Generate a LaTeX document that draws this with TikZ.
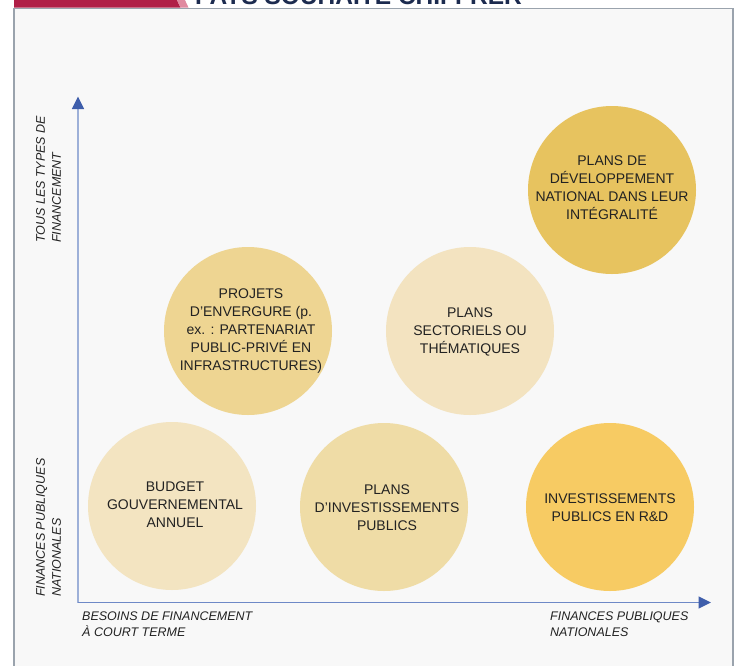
\documentclass[tikz,border=0pt]{standalone}
\usepackage{fontspec}
\setmainfont{Liberation Sans}
\usetikzlibrary{arrows.meta}
\definecolor{panelbg}{HTML}{F8F8F8}
\definecolor{panelborder}{HTML}{9AA3AD}
\definecolor{crimson}{HTML}{B01F47}
\definecolor{pinkstripe}{HTML}{E08AA0}
\definecolor{titlecol}{HTML}{1C2B4F}
\definecolor{textdark}{HTML}{222222}
\definecolor{axisv}{HTML}{9DB0D8}
\definecolor{axish}{HTML}{6E89C7}
\definecolor{axistip}{HTML}{3F5EAB}
\definecolor{cA}{HTML}{E7C35F}
\definecolor{cB}{HTML}{EED592}
\definecolor{cC}{HTML}{F3E3C0}
\definecolor{cD}{HTML}{F3E4C1}
\definecolor{cE}{HTML}{EFDCA6}
\definecolor{cF}{HTML}{F7CB63}
\begin{document}
\begin{tikzpicture}[x=1pt,y=-1pt,
  bubble/.style={circle, minimum size=168pt, inner sep=0pt, draw=none},
  bubbletext/.style={align=center, inner sep=0pt, text=textdark,
    font=\fontsize{14}{18}\selectfont},
  axislabel/.style={align=left, inner sep=0pt, text=textdark,
    font=\itshape\fontsize{12.5}{16}\selectfont},
  axisline/.style={line width=1.6pt},
  axisarrow/.style={-{Triangle[length=12.5pt,width=12pt,color=axistip]}}]
\useasboundingbox (0,0) rectangle (736,665);
\clip (0,0) rectangle (736,665);
\fill[white] (0,0) rectangle (736,665);
% panel
\filldraw[fill=panelbg, draw=panelborder, line width=1.6pt] (14,8.5) rectangle (733,680);
% header tab
\fill[crimson] (14,-2) -- (176,-2) -- (180.5,7.6) -- (14,7.6) -- cycle;
\fill[pinkstripe] (176,-2) -- (184,-2) -- (188.5,7.6) -- (180.5,7.6) -- cycle;
\node[anchor=base west, inner sep=0pt, text=titlecol,
  font=\bfseries\fontsize{24.5}{28}\selectfont] (title) at (195,4) {PAYS SOUHAITE CHIFFRER};
% bubbles
\node[bubble, fill=cA] (c1) at (612,190) {};
\node[bubble, fill=cB] (c2) at (248,331) {};
\node[bubble, fill=cC] (c3) at (470,331) {};
\node[bubble, fill=cD] (c4) at (172,506) {};
\node[bubble, fill=cE] (c5) at (384,507) {};
\node[bubble, fill=cF] (c6) at (610,507) {};
\node[bubbletext] (t1) at (612,188) {PLANS DE\\DÉVELOPPEMENT\\NATIONAL DANS LEUR\\INTÉGRALITÉ};
\node[bubbletext] (t2) at (251,331) {PROJETS\\D’ENVERGURE (p.\\ex. : PARTENARIAT\\PUBLIC-PRIVÉ EN\\INFRASTRUCTURES)};
\node[bubbletext] (t3) at (470,332) {PLANS\\SECTORIELS OU\\THÉMATIQUES};
\node[bubbletext] (t4) at (175,505) {BUDGET\\GOUVERNEMENTAL\\ANNUEL};
\node[bubbletext] (t5) at (387,508) {PLANS\\D’INVESTISSEMENTS\\PUBLICS};
\node[bubbletext] (t6) at (610,508) {INVESTISSEMENTS\\PUBLICS EN R\&D};
% axes
\coordinate (origin) at (78,602.5);
\coordinate (ytip) at (78,96.5);
\coordinate (xtip) at (711,602.5);
\draw[axisline, draw=axisv, axisarrow] (origin) -- (ytip);
\draw[axisline, draw=axish, axisarrow] (origin) -- (xtip);
% axis labels
\node[axislabel, anchor=north west] (xl1) at (82,611.5) {BESOINS DE FINANCEMENT\\À COURT TERME};
\node[axislabel, anchor=north west] (xl2) at (550,611.5) {FINANCES PUBLIQUES\\NATIONALES};
\node[axislabel, rotate=90, anchor=north west] (yl1) at (36,243) {TOUS LES TYPES DE\\FINANCEMENT};
\node[axislabel, rotate=90, anchor=north west] (yl2) at (36,597) {FINANCES PUBLIQUES\\NATIONALES};
\end{tikzpicture}
\end{document}
